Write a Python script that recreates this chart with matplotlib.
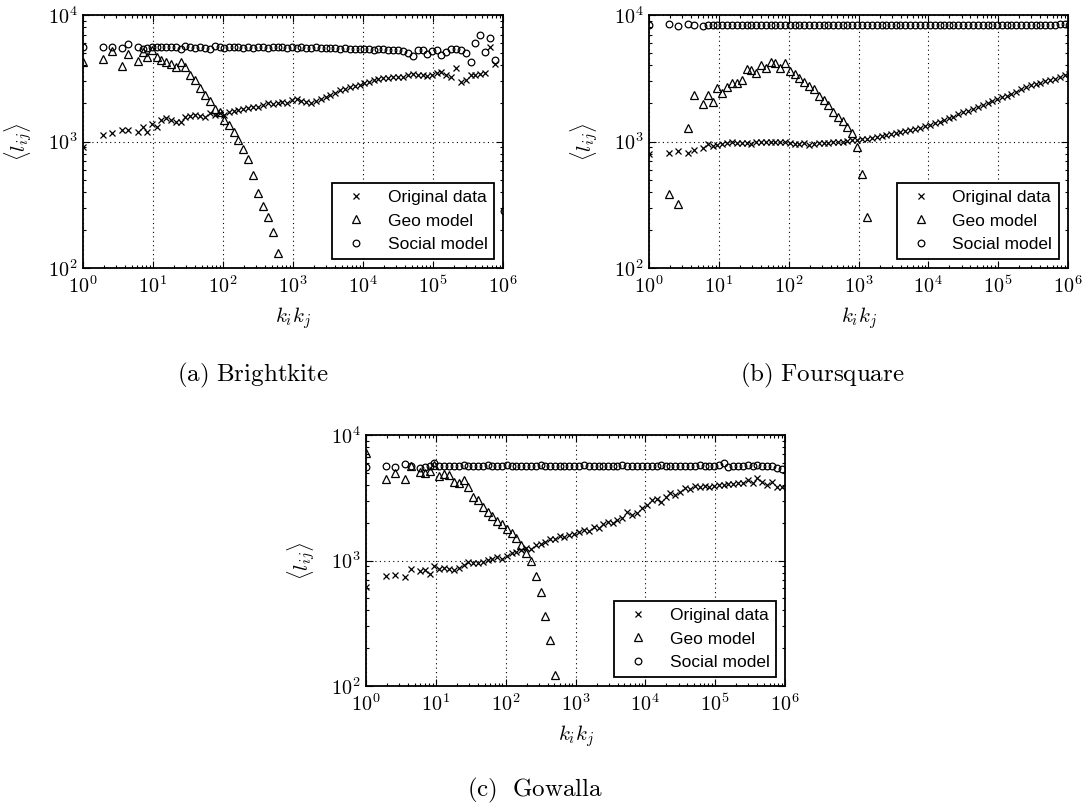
import numpy as np
import matplotlib
matplotlib.use('Agg')
import matplotlib.pyplot as plt
from matplotlib.ticker import LogLocator, FuncFormatter, NullFormatter, FixedLocator

# ---------------- data ----------------
# bin positions, log10(k_i k_j)
KK_LOG = [0.00, 0.28, 0.42, 0.56, 0.64, 0.78, 0.85, 0.91, 0.98,
          1.05, 1.12, 1.19, 1.26, 1.33, 1.40, 1.46, 1.53, 1.60, 1.67, 1.74, 1.81, 1.88, 1.95,
          2.02, 2.09, 2.15, 2.22, 2.29, 2.36, 2.43, 2.50, 2.57, 2.64, 2.71, 2.78, 2.84, 2.91, 2.98,
          3.05, 3.12, 3.19, 3.26, 3.33, 3.40, 3.47, 3.53, 3.60, 3.67, 3.74, 3.81, 3.88, 3.95,
          4.02, 4.09, 4.16, 4.22, 4.29, 4.36, 4.43, 4.50, 4.57, 4.64, 4.71, 4.78, 4.85, 4.91, 4.98,
          5.05, 5.12, 5.19, 5.26, 5.33, 5.40, 5.47, 5.54, 5.60, 5.67, 5.74, 5.81, 5.88, 5.95, 6.02]

X_TICKS = [1e0, 1e1, 1e2, 1e3, 1e4, 1e5, 1e6]
Y_TICKS = [1e2, 1e3, 1e4]

N = None

BK_ORIG = [910, 1125, 1175, 1233, 1233, 1183, 1310, 1195, 1375,
           1310, 1480, 1525, 1480, 1420, 1420, 1570, 1600, 1620, 1590, 1550, 1670, 1620, 1670,
           1620, 1720, 1755, 1775, 1800, 1830, 1860, 1885, 1945, 2005, 1980, 2000, 2060, 2030, 2125,
           2150, 2100, 2060, 2000, 2080, 2150, 2260, 2330, 2400, 2550, 2600, 2700, 2750, 2800,
           2900, 2970, 3050, 3100, 3150, 3180, 3220, 3250, 3230, 3350, 3400, 3330, 3360, 3300, 3350,
           3450, 3520, 3380, 3260, 3790, 2970, 3090, 3360, 3360, 3400, 3450, 5560, 4070, N, N]
BK_GEO = [4280, 4500, 5200, 3930, 4930, 4330, 5130, 4680, 5280,
          4630, 4400, 4270, 4090, 3900, 4270, 3900, 3350, 3090, 2670, 2350, 2090, 1820, 1720,
          1480, 1350, 1195, 1028, 867, 723, 543, 389, 309, 254, 194, 132, N, N, N,
          N, N, N, N, N, N, N, N, N, N, N, N, N, N,
          N, N, N, N, N, N, N, N, N, N, N, N, N, N, N,
          N, N, N, N, N, N, N, N, N, N, N, N, N, N, N]
BK_SOC = [5560, 5560, 5560, 5460, 5860, 5560, 5360, 5460, 5560,
          5560, 5560, 5600, 5560, 5560, 5350, 5700, 5600, 5520, 5560, 5460, 5380, 5700, 5560,
          5520, 5560, 5600, 5600, 5520, 5560, 5460, 5600, 5560, 5520, 5560, 5600, 5560, 5500, 5560,
          5520, 5560, 5460, 5520, 5560, 5460, 5500, 5460, 5520, 5420, 5460, 5360, 5420, 5360,
          5400, 5360, 5300, 5360, 5400, 5300, 5250, 5300, 5200, 4990, 4780, 5300, 5300, 4900, 5200,
          5300, 4840, 5140, 5360, 5350, 5300, 4990, 4280, 5970, 6950, 5130, 6550, 4400, N, 280]

FS_ORIG = [790, 813, 838, 818, 853, 881, 947, 919, 935,
           964, 976, 994, 976, 976, 976, 964, 982, 994, 994, 994, 994, 994, 982,
           976, 964, 947, 976, 935, 964, 976, 976, 976, 982, 982, 994, 1006, 1024, 1036,
           1040, 1055, 1070, 1085, 1105, 1120, 1140, 1160, 1180, 1200, 1230, 1260, 1290, 1320,
           1355, 1390, 1430, 1470, 1520, 1570, 1640, 1700, 1750, 1810, 1870, 1940, 2010, 2080, 2160,
           2240, 2310, 2390, 2480, 2600, 2700, 2780, 2850, 2920, 2990, 3060, 3140, 3230, 3350, 3420]
FS_GEO = [N, 387, 323, 1280, 2330, 1980, 2330, 2040, 2670,
          2430, 2710, 2910, 2880, 3050, 3730, 3670, 3500, 4060, 3790, 4280, 4140, 3790, 4140,
          3620, 3410, 3160, 2970, 2740, 2580, 2290, 2120, 1940, 1720, 1570, 1460, 1310, 1160, 912,
          558, 253, N, N, N, N, N, N, N, N, N, N, N, N,
          N, N, N, N, N, N, N, N, N, N, N, N, N, N, N,
          N, N, N, N, N, N, N, N, N, N, N, N, N, N, N]
FS_SOC = [8330, 8440, 8190, 8440, 8400, 8190, 8330, 8330, 8380,
          8330, 8360, 8330, 8400, 8330, 8300, 8360, 8330, 8380, 8330, 8300, 8360, 8330, 8330,
          8380, 8330, 8360, 8330, 8300, 8330, 8360, 8330, 8330, 8380, 8330, 8300, 8330, 8360, 8330,
          8330, 8360, 8330, 8380, 8330, 8330, 8360, 8330, 8300, 8330, 8360, 8330, 8380, 8330,
          8360, 8330, 8330, 8380, 8360, 8330, 8330, 8360, 8400, 8330, 8360, 8330, 8380, 8330, 8360,
          8330, 8380, 8360, 8330, 8400, 8360, 8330, 8380, 8360, 8300, 8330, 8400, 8420, 8440, 8400]

GW_ORIG = [617, 750, 773, 741, 848, 827, 838, 778, 902,
           848, 873, 862, 838, 879, 918, 976, 957, 957, 976, 1006, 1037, 1070, 1037,
           1083, 1150, 1172, 1208, 1268, 1245, 1325, 1357, 1409, 1472, 1496, 1563, 1540, 1600, 1640,
           1700, 1745, 1720, 1857, 1800, 1950, 2036, 1980, 2100, 2163, 2444, 2300, 2370, 2600,
           2750, 3030, 3070, 2940, 3220, 3425, 3310, 3530, 3750, 3680, 3920, 3870, 3920, 3870, 3920,
           3990, 3990, 4060, 4060, 4170, 4170, 4380, 4110, 4510, 4240, 3990, 4240, 3870, 3870, N]
GW_GEO = [7140, 4430, 4940, 4430, 5660, 5090, 5000, 5190, 5770,
          4710, 4890, 4800, 4240, 4110, 4380, 3870, 3220, 3030, 2650, 2440, 2260, 2070, 1950,
          1770, 1670, 1500, 1325, 1140, 990, 755, 556, 362, 231, 122, N, N, N, N,
          N, N, N, N, N, N, N, N, N, N, N, N, N, N,
          N, N, N, N, N, N, N, N, N, N, N, N, N, N, N,
          N, N, N, N, N, N, N, N, N, N, N, N, N, N, N]
GW_SOC = [5590, 5640, 5530, 5830, 5640, 5420, 5590, 5640, 5940,
          5690, 5690, 5640, 5690, 5690, 5740, 5690, 5690, 5640, 5690, 5740, 5690, 5690, 5690,
          5740, 5690, 5690, 5640, 5690, 5690, 5690, 5740, 5690, 5690, 5690, 5640, 5690, 5690, 5690,
          5690, 5740, 5690, 5690, 5640, 5690, 5690, 5690, 5690, 5740, 5690, 5690, 5690, 5640,
          5690, 5690, 5690, 5740, 5690, 5690, 5690, 5640, 5690, 5690, 5690, 5740, 5690, 5690, 5690,
          5740, 5940, 5590, 5640, 5690, 5690, 5740, 5690, 5740, 5690, 5640, 5690, 5420, 5340, N]

PANELS = [
    ("(a)\\ Brightkite", BK_ORIG, BK_GEO, BK_SOC),
    ("(b)\\ Foursquare", FS_ORIG, FS_GEO, FS_SOC),
    ("(c)\\ \\ Gowalla", GW_ORIG, GW_GEO, GW_SOC),
]
LABELS = ["Original data", "Geo model", "Social model"]

# ---------------- style ----------------
plt.rcParams['mathtext.fontset'] = 'cm'
plt.rcParams['font.family'] = ['DejaVu Sans']

W, H = 1086, 808
fig = plt.figure(figsize=(W / 100, H / 100), dpi=100)

# axes boxes in pixels: left, top, right, bottom
boxes = [(83, 15, 503, 268), (649, 15, 1068, 268), (366, 435, 785, 686)]
caption_pos = [(253, 375), (822, 375), (535, 790)]

x = 10 ** np.array(KK_LOG)

def fmt(v, pos):
    e = int(round(np.log10(v)))
    return r'$\mathrm{10^{%d}}$' % e

for (title, orig, geo, soc), (l, t, r, b), (cx, cy) in zip(PANELS, boxes, caption_pos):
    ax = fig.add_axes([l / W, 1 - b / H, (r - l) / W, (b - t) / H])
    ax.set_xscale('log')
    ax.set_yscale('log')
    y1 = np.array(orig, dtype=float)
    y2 = np.array(geo, dtype=float)
    y3 = np.array(soc, dtype=float)
    ax.plot(x, y1, ls='none', marker='x', ms=4.8, mew=0.9, color='k', label=LABELS[0])
    ax.plot(x, y2, ls='none', marker='^', ms=5.2, mew=0.9, mfc='none', mec='k', label=LABELS[1])
    ax.plot(x, y3, ls='none', marker='o', ms=4.8, mew=0.9, mfc='none', mec='k', label=LABELS[2])
    ax.set_xlim(1, 1e6)
    ax.set_ylim(1e2, 1e4)
    ax.xaxis.set_major_locator(FixedLocator(X_TICKS))
    ax.yaxis.set_major_locator(FixedLocator(Y_TICKS))
    ax.xaxis.set_minor_locator(LogLocator(base=10, subs=np.arange(2, 10), numticks=20))
    ax.yaxis.set_minor_locator(LogLocator(base=10, subs=np.arange(2, 10), numticks=20))
    ax.xaxis.set_major_formatter(FuncFormatter(fmt))
    ax.yaxis.set_major_formatter(FuncFormatter(fmt))
    ax.xaxis.set_minor_formatter(NullFormatter())
    ax.yaxis.set_minor_formatter(NullFormatter())
    ax.tick_params(which='both', direction='in', top=True, right=True, width=0.8, colors='k')
    ax.tick_params(which='major', length=5, labelsize=14.5)
    ax.tick_params(which='minor', length=2.5)
    ax.tick_params(axis='x', which='major', pad=5)
    ax.tick_params(axis='y', which='major', pad=4)
    for sp in ax.spines.values():
        sp.set_linewidth(1.3)
        sp.set_color('k')
    ax.grid(True, which='major', color='k', linestyle=(0, (1, 3)), linewidth=0.8)
    ax.set_xlabel(r'$k_ik_j$', fontsize=15, labelpad=6)
    ax.set_ylabel(r'$\langle l_{ij}\rangle$', fontsize=15, labelpad=9)
    leg = ax.legend(loc='lower right', numpoints=1, fancybox=False, framealpha=1,
                    edgecolor='k', prop={'family': 'Liberation Sans', 'size': 12.5})
    leg.get_frame().set_linewidth(1.3)
    fig.text(cx / W, 1 - cy / H, r'$\mathrm{%s}$' % title, ha='center', va='center',
             fontsize=18)

fig.savefig('out.png', dpi=100, facecolor='white')
